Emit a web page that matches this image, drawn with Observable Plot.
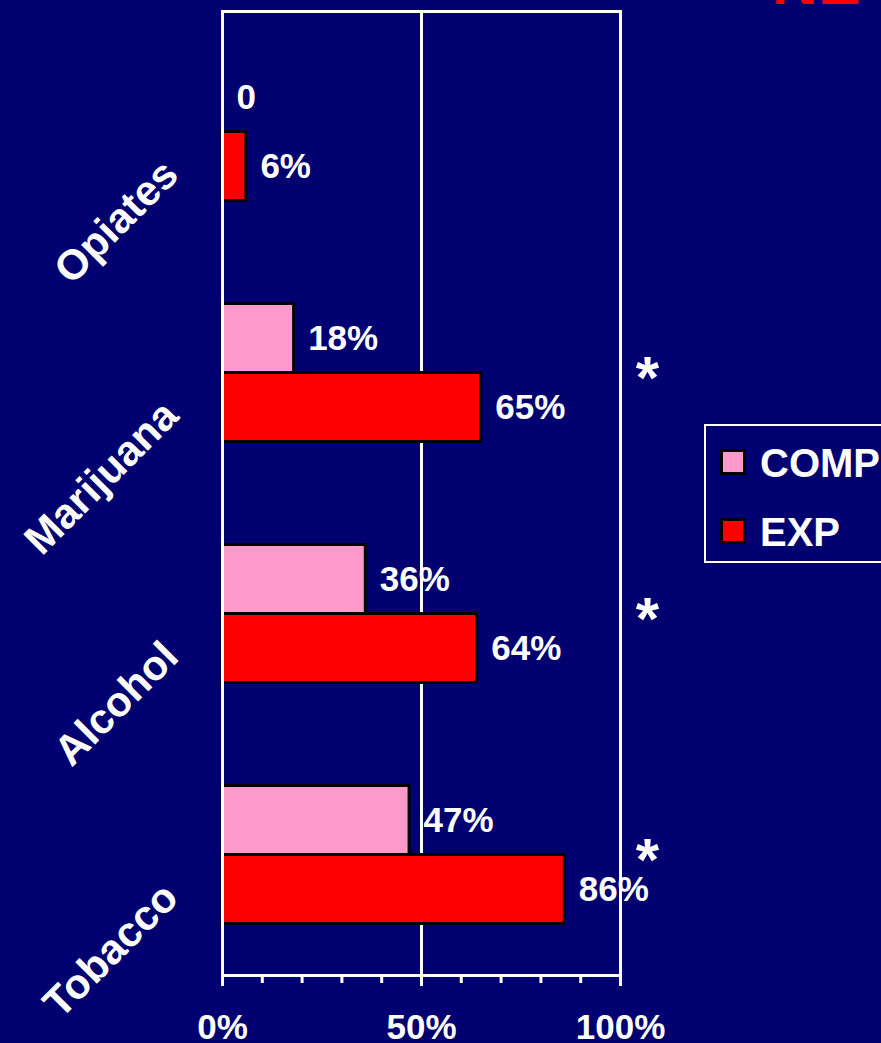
<!DOCTYPE html>
<html><head><meta charset="utf-8">
<script src="https://cdn.jsdelivr.net/npm/d3@7"></script>
<script src="https://cdn.jsdelivr.net/npm/@observablehq/plot@0.6"></script>
<style>
html,body{margin:0;padding:0;background:#000070;overflow:hidden;}
#wrap{position:relative;width:881px;height:1043px;overflow:hidden;background:#000070;font-family:"Liberation Sans",Arial,sans-serif;}
#title{position:absolute;left:772px;top:-50px;font-size:64px;font-weight:bold;color:#ff0000;line-height:64px;white-space:nowrap;}
#legend{position:absolute;left:704px;top:424px;width:220px;height:135px;border:2px solid #fff;}
.sw{position:absolute;left:14px;width:20px;height:20px;border:3px solid #000;}
.lab{position:absolute;left:54px;color:#fff;font-weight:bold;font-size:40px;line-height:40px;white-space:nowrap;}
#chart{position:absolute;left:0;top:0;}
</style></head>
<body>
<div id="wrap">
  <div id="chart"></div>
  <div id="title">NE</div>
  <div id="legend"></div>
</div>
<script>
const categories = ["Opiates", "Marijuana", "Alcohol", "Tobacco"];
const series = ["COMP", "EXP"];
const compValues = [0, 18, 36, 47];
const expValues = [6, 65, 64, 86];
const significant = ["Marijuana", "Alcohol", "Tobacco"];
const xTickValues = [0, 50, 100];
const xMinorTicks = [0, 10, 20, 30, 40, 50, 60, 70, 80, 90, 100];
const seriesColors = ["#ff99cc", "#ff0000"];

const W = 881, H = 1043, mT = 11, mB = 68, mL = 222, mR = 261;
const band = (H - mT - mB) / categories.length;
const barH = 69;
const outer = (band - 2 * barH) / 2;
const font = '"Liberation Sans", Arial, sans-serif';

const comp = categories.map((c, i) => ({category: c, series: "COMP", value: compValues[i]}));
const exp = categories.map((c, i) => ({category: c, series: "EXP", value: expValues[i]}));
const fmt = v => v === 0 ? "0" : v + "%";

const labelStyle = {fill: "white", fontSize: 35, fontWeight: "bold", textAnchor: "start", lineAnchor: "middle", dx: 14};

const chart = Plot.plot({
  width: W, height: H,
  marginTop: mT, marginBottom: mB, marginLeft: mL, marginRight: mR,
  style: {background: "transparent", color: "white", fontFamily: font, overflow: "visible"},
  x: {domain: [0, 100]},
  y: {domain: categories, padding: 0, axis: null},
  marks: [
    Plot.ruleX([50], {stroke: "white", strokeWidth: 3}),
    Plot.barX(comp.filter(d => d.value > 0), {x: "value", y: "category", fill: seriesColors[0], stroke: "black", strokeWidth: 3, insetTop: outer, insetBottom: outer + barH}),
    Plot.barX(exp, {x: "value", y: "category", fill: seriesColors[1], stroke: "black", strokeWidth: 3, insetTop: outer + barH, insetBottom: outer}),
    Plot.frame({stroke: "white", strokeWidth: 3}),
    Plot.text(comp, {x: "value", y: "category", text: d => fmt(d.value), dy: -barH / 2, ...labelStyle}),
    Plot.text(exp, {x: "value", y: "category", text: d => fmt(d.value), dy: barH / 2, ...labelStyle}),
    Plot.text(significant, {x: 100, y: d => d, text: () => "*", fill: "white", fontSize: 60, fontWeight: "bold", textAnchor: "middle", lineAnchor: "bottom", dx: 27, dy: 25}),
    Plot.text(categories, {x: 0, y: d => d, text: d => d, fill: "white", fontSize: 42, fontWeight: "bold", textAnchor: "end", lineAnchor: "bottom", rotate: -45, dx: -42, dy: 45}),
    Plot.axisX({ticks: xMinorTicks, tickSize: 8, tickFormat: () => "", color: "white", strokeWidth: 3, label: null}),
    Plot.axisX({ticks: xTickValues, tickSize: 11, tickPadding: 28, tickFormat: d => d + "%", color: "white", strokeWidth: 3, fontSize: 35, fontWeight: "bold", label: null})
  ]
});
document.getElementById("chart").appendChild(chart);

const legend = document.getElementById("legend");
series.forEach((s, i) => {
  const sw = document.createElement("div");
  sw.className = "sw";
  sw.style.top = (23 + 69 * i) + "px";
  sw.style.background = seriesColors[i];
  legend.appendChild(sw);
  const lab = document.createElement("div");
  lab.className = "lab";
  lab.style.top = (17 + 69 * i) + "px";
  lab.textContent = s;
  legend.appendChild(lab);
});
</script>
</body></html>
